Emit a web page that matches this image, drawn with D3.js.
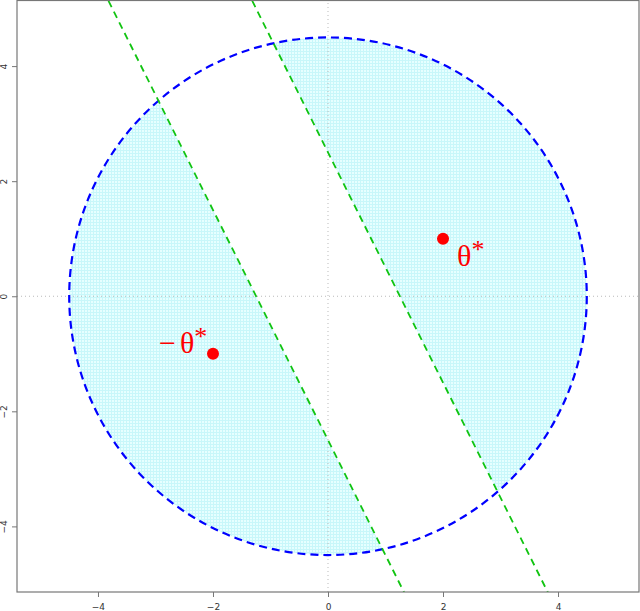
<!DOCTYPE html>
<html lang="en">
<head>
<meta charset="UTF-8" />
<title>theta star</title>
<style>
  body { margin: 0; background: #fff; }
  svg { display: block; }
</style>
</head>
<body>
<svg id="chart" width="640" height="611"></svg>
<script src="https://cdn.jsdelivr.net/npm/d3@7"></script>
<script>
// data
const xTicks = [-4, -2, 0, 2, 4];
const yTicks = [-4, -2, 0, 2, 4];
const radius = 4.5;
const lineIntercepts = [-2.5, 2.5]; // y = -2x + c
const lineSlope = -2;
const points = [
  { x: 2, y: 1, label: "θ", pre: "", dx: 14, dy: 27 },
  { x: -2, y: -1, label: "θ", pre: "−", dx: -54, dy: -1 }
];

const svg = d3.select("#chart");
const x = d3.scaleLinear().domain([-5.408, 5.408]).range([17, 639]);
const y = d3.scaleLinear().domain([-5.14, 5.14]).range([592, 0.5]);

const defs = svg.append("defs");
const pat = defs.append("pattern")
  .attr("id", "hatch").attr("patternUnits", "userSpaceOnUse")
  .attr("width", 3).attr("height", 3);
pat.append("rect").attr("width", 3).attr("height", 3).attr("fill", "#e6ffff");
pat.append("path").attr("d", "M0,0.5H3M0.5,0V3")
  .attr("stroke", "#c8f7fa").attr("stroke-width", 1);

defs.append("clipPath").attr("id", "circ")
  .append("circle")
  .attr("cx", x(0)).attr("cy", y(0))
  .attr("r", x(radius) - x(0));

defs.append("clipPath").attr("id", "box")
  .append("rect")
  .attr("x", x.range()[0]).attr("y", y.range()[1])
  .attr("width", x.range()[1] - x.range()[0])
  .attr("height", y.range()[0] - y.range()[1]);

// shaded half-planes inside the circle: outside the band between lines
const B = 7;
const lineX = (c, yy) => (yy - c) / lineSlope;
const upper = [[lineX(lineIntercepts[1], B), B], [B, B], [B, -B], [lineX(lineIntercepts[1], -B), -B]];
const lower = [[lineX(lineIntercepts[0], B), B], [-B, B], [-B, -B], [lineX(lineIntercepts[0], -B), -B]];
const shade = svg.append("g").attr("clip-path", "url(#circ)");
[upper, lower].forEach(poly => {
  shade.append("path")
    .attr("d", d3.line().x(d => x(d[0])).y(d => y(d[1]))(poly) + "Z")
    .attr("fill", "url(#hatch)");
});

// reference dotted lines at 0
const plot = svg.append("g").attr("clip-path", "url(#box)");
plot.append("line")
  .attr("x1", x(0)).attr("x2", x(0))
  .attr("y1", y.range()[0]).attr("y2", y.range()[1])
  .attr("stroke", "#bbbbbb").attr("stroke-width", 1).attr("stroke-dasharray", "1,3");
plot.append("line")
  .attr("x1", x.range()[0]).attr("x2", x.range()[1])
  .attr("y1", y(0)).attr("y2", y(0))
  .attr("stroke", "#bbbbbb").attr("stroke-width", 1).attr("stroke-dasharray", "1,3");

// circle
plot.append("circle")
  .attr("cx", x(0)).attr("cy", y(0))
  .attr("r", x(radius) - x(0))
  .attr("fill", "none")
  .attr("stroke", "#0000ff").attr("stroke-width", 2.2)
  .attr("stroke-dasharray", "8,5");

// green lines
lineIntercepts.forEach(c => {
  plot.append("line")
    .attr("x1", x(lineX(c, B))).attr("y1", y(B))
    .attr("x2", x(lineX(c, -B))).attr("y2", y(-B))
    .attr("stroke", "#11c411").attr("stroke-width", 1.8)
    .attr("stroke-dasharray", "7,5");
});

// points and labels
points.forEach(p => {
  plot.append("circle")
    .attr("cx", x(p.x)).attr("cy", y(p.y)).attr("r", 6)
    .attr("fill", "#ff0000");
  const t = plot.append("text")
    .attr("x", x(p.x) + p.dx).attr("y", y(p.y) + p.dy)
    .attr("fill", "#ff0000")
    .style("font-family", "'Liberation Serif', 'DejaVu Serif', serif")
    .style("font-size", "30px");
  if (p.pre) t.append("tspan").text(p.pre).attr("dx", 0);
  t.append("tspan").text(p.label).attr("dx", p.pre ? 4 : 0);
  t.append("tspan").text("*").attr("dy", -8).style("font-size", "26px");
});

// box
svg.append("rect")
  .attr("x", x.range()[0]).attr("y", y.range()[1])
  .attr("width", x.range()[1] - x.range()[0])
  .attr("height", y.range()[0] - y.range()[1])
  .attr("fill", "none").attr("stroke", "#777").attr("stroke-width", 1.2);

// axes
const xAxis = d3.axisBottom(x).tickValues(xTicks).tickSize(5).tickPadding(7);
const gx = svg.append("g").attr("transform", `translate(0,${y.range()[0]})`).call(xAxis);
gx.select(".domain").remove();
gx.selectAll(".tick line").attr("stroke", "#777");
gx.selectAll("text").style("font-family", "'DejaVu Sans', sans-serif").style("font-size", "9px").attr("fill", "#333");

const yAxis = d3.axisLeft(y).tickValues(yTicks).tickSize(5).tickPadding(0);
const gy = svg.append("g").attr("transform", `translate(${x.range()[0]},0)`).call(yAxis);
gy.select(".domain").remove();
gy.selectAll(".tick line").attr("stroke", "#777");
gy.selectAll("text")
  .attr("x", 0).attr("dy", 0)
  .attr("transform", "translate(-10,0) rotate(-90)")
  .attr("text-anchor", "middle")
  .style("font-family", "'DejaVu Sans', sans-serif").style("font-size", "9px").attr("fill", "#333");
</script>
</body>
</html>
